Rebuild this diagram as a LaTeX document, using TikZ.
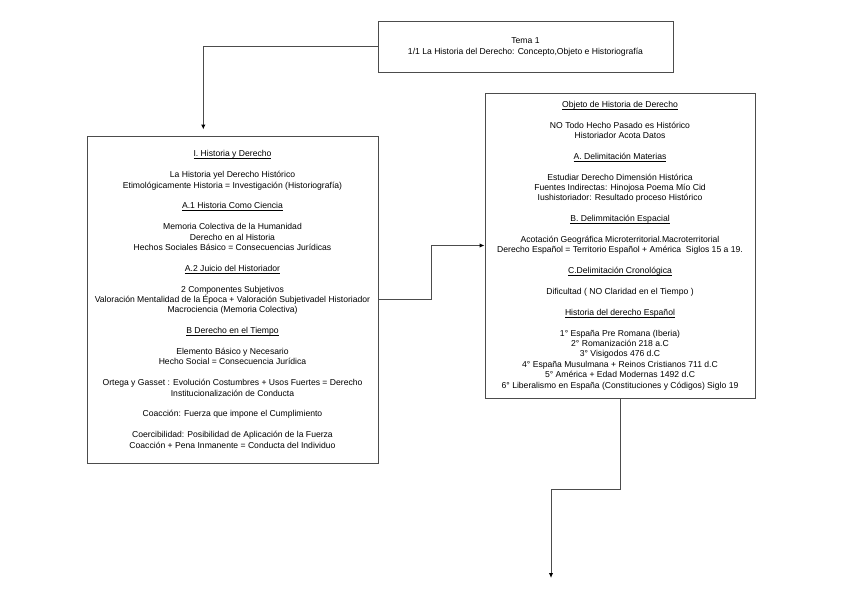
\documentclass[tikz,border=0pt]{standalone}
\usepackage{fontspec}
\setmainfont{Liberation Sans}
\usepackage{tikz}
\usetikzlibrary{arrows.meta, calc, positioning}
\newcommand{\subrayado}[1]{\underline{\raisebox{0pt}[\height][0pt]{#1}}}

\begin{document}
\begin{tikzpicture}[x=1pt, y=-1pt,
    box/.style={draw=gray!60!black, line width=1pt, inner sep=0pt, align=center,
        font=\fontsize{8.6}{10.4}\selectfont},
    conn/.style={draw=gray!60!black, line width=1pt,
        -{Latex[length=5pt,width=4.5pt,black]}}]
    % page frame
    \useasboundingbox (0,0) rectangle (848,602);

    % Tema
    \node[box, minimum width=295pt, minimum height=50pt] (tema) at (525.5,47)
        {Tema 1\\1/1 La Historia del Derecho: Concepto,Objeto e Historiografía};

    % I. Historia y Derecho
    \node[box, minimum width=291pt, minimum height=327pt] (historia) at (232.5,299.5)
        {\subrayado{I. Historia y Derecho}\\[10.4pt]
         La Historia yel Derecho Histórico\\
         Etimológicamente Historia = Investigación (Historiografía)\\[10.4pt]
         \subrayado{A.1 Historia Como Ciencia}\\[10.4pt]
         Memoria Colectiva de la Humanidad\\
         Derecho en al Historia\\
         Hechos Sociales Básico = Consecuencias Jurídicas\\[10.4pt]
         \subrayado{A.2 Juicio del Historiador}\\[10.4pt]
         2 Componentes Subjetivos\\
         Valoración Mentalidad de la Época + Valoración Subjetivadel Historiador\\
         Macrociencia (Memoria Colectiva)\\[10.4pt]
         \subrayado{B Derecho en el Tiempo}\\[10.4pt]
         Elemento Básico y Necesario\\
         Hecho Social = Consecuencia Jurídica\\[10.4pt]
         Ortega y Gasset : Evolución Costumbres + Usos Fuertes = Derecho\\
         Institucionalización de Conducta\\[10.4pt]
         Coacción: Fuerza que impone el Cumplimiento\\[10.4pt]
         Coercibilidad: Posibilidad de Aplicación de la Fuerza\\
         Coacción + Pena Inmanente = Conducta del Individuo};

    % Objeto de Historia de Derecho
    \node[box, minimum width=270pt, minimum height=305pt] (objeto) at (620,245.5)
        {\subrayado{Objeto de Historia de Derecho}\\[10.4pt]
         NO Todo Hecho Pasado es Histórico\\
         Historiador Acota Datos\\[10.4pt]
         \subrayado{A. Delimitación Materias}\\[10.4pt]
         Estudiar Derecho Dimensión Histórica\\
         Fuentes Indirectas: Hinojosa Poema Mío Cid\\
         Iushistoriador: Resultado proceso Histórico\\[10.4pt]
         \subrayado{B. Delimmitación Espacial}\\[10.4pt]
         Acotación Geográfica Microterritorial.Macroterritorial\\
         Derecho Español = Territorio Español + América~ Siglos 15 a 19.\\[10.4pt]
         \subrayado{C.Delimitación Cronológica}\\[10.4pt]
         Dificultad ( NO Claridad en el Tiempo )\\[10.4pt]
         \subrayado{Historia del derecho Español}\\[10.4pt]
         1° España Pre Romana (Iberia)\\
         2° Romanización 218 a.C\\
         3° Visigodos 476 d.C\\
         4° España Musulmana + Reinos Cristianos 711 d.C\\
         5° América + Edad Modernas 1492 d.C\\
         6° Liberalismo en España (Constituciones y Códigos) Siglo 19};

    \coordinate (fin) at (551,578);

    % connectors
    \draw[conn, shorten >=6pt] (tema.west) -| ($(historia.north west)!0.4!(historia.north east)$);
    \draw[conn] (historia.east) -- ++(53,0) |- (objeto.west);
    \draw[conn] (objeto.south) -- ++(0,91) -| (fin);
\end{tikzpicture}
\end{document}
